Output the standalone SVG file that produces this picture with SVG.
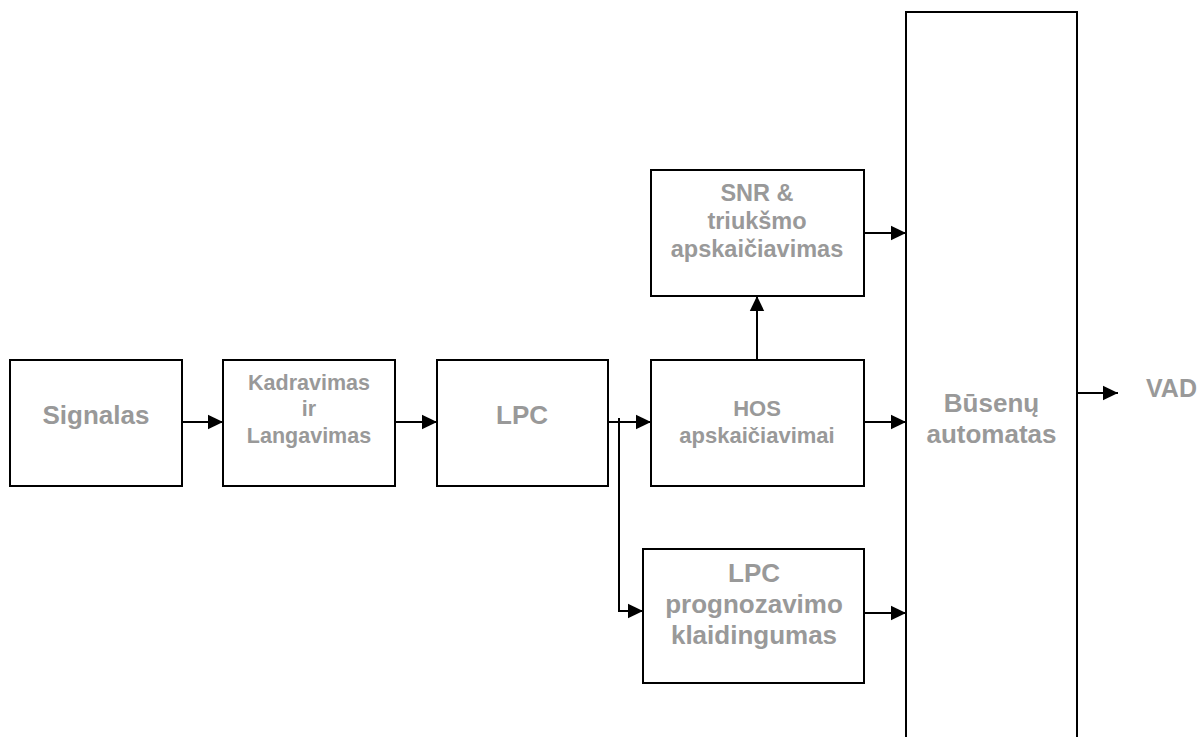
<svg xmlns="http://www.w3.org/2000/svg" width="1204" height="737" viewBox="0 0 1204 737">
  <style>
    .box { fill: #ffffff; stroke: #000000; stroke-width: 2; }
    .lbl { fill: #999999; font-family: "Liberation Sans", Arial, sans-serif; font-weight: bold; text-anchor: middle; }
    .wire { fill: none; stroke: #000000; stroke-width: 2; }
    .arrow { marker-end: url(#head); }
  </style>
  <defs>
    <marker id="head" markerUnits="userSpaceOnUse" markerWidth="16" markerHeight="16" refX="15" refY="8" orient="auto">
      <path d="M0,0.8 L15,8 L0,15.2 Z" fill="#000000"/>
    </marker>
  </defs>

  <rect width="1204" height="737" fill="#ffffff"/>

  <!-- processing blocks -->
  <g id="signalas">
    <rect class="box" x="10" y="360" width="172" height="126"/>
    <text class="lbl" x="96" y="424" font-size="26">Signalas</text>
  </g>

  <g id="kadravimas">
    <rect class="box" x="223" y="360" width="172" height="126"/>
    <text class="lbl" x="309" y="390" font-size="21.5">Kadravimas</text>
    <text class="lbl" x="309" y="416" font-size="21.5">ir</text>
    <text class="lbl" x="309" y="443" font-size="21.5">Langavimas</text>
  </g>

  <g id="lpc">
    <rect class="box" x="437" y="360" width="171" height="126"/>
    <text class="lbl" x="522" y="424" font-size="26">LPC</text>
  </g>

  <g id="snr">
    <rect class="box" x="651" y="170" width="213" height="126"/>
    <text class="lbl" x="757" y="201" font-size="23.5">SNR &amp;</text>
    <text class="lbl" x="757" y="229" font-size="23.5">triukšmo</text>
    <text class="lbl" x="757" y="257" font-size="23.5">apskaičiavimas</text>
  </g>

  <g id="hos">
    <rect class="box" x="651" y="360" width="213" height="126"/>
    <text class="lbl" x="757" y="416" font-size="22">HOS</text>
    <text class="lbl" x="757" y="443" font-size="22">apskaičiavimai</text>
  </g>

  <g id="prognozavimas">
    <rect class="box" x="643" y="549" width="221" height="134"/>
    <text class="lbl" x="754" y="582" font-size="26">LPC</text>
    <text class="lbl" x="754" y="613" font-size="26">prognozavimo</text>
    <text class="lbl" x="754" y="644" font-size="26">klaidingumas</text>
  </g>

  <g id="automatas">
    <rect class="box" x="906" y="12" width="171" height="800"/>
    <text class="lbl" x="991.5" y="412" font-size="26">Būsenų</text>
    <text class="lbl" x="991.5" y="443" font-size="26">automatas</text>
  </g>

  <g id="vad">
    <text class="lbl" x="1171.5" y="397" font-size="25">VAD</text>
  </g>

  <!-- signal flow -->
  <g id="connectors">
    <line class="wire arrow" x1="182" y1="422" x2="223" y2="422"/>
    <line class="wire arrow" x1="395" y1="422" x2="437" y2="422"/>
    <line class="wire arrow" x1="608" y1="422" x2="651" y2="422"/>
    <polyline class="wire arrow" points="619,418 619,611 643,611"/>
    <line class="wire arrow" x1="757" y1="360" x2="757" y2="296"/>
    <line class="wire arrow" x1="864" y1="233" x2="906" y2="233"/>
    <line class="wire arrow" x1="864" y1="422" x2="906" y2="422"/>
    <line class="wire arrow" x1="864" y1="613" x2="906" y2="613"/>
    <line class="wire arrow" x1="1077" y1="393" x2="1118" y2="393"/>
  </g>
</svg>
